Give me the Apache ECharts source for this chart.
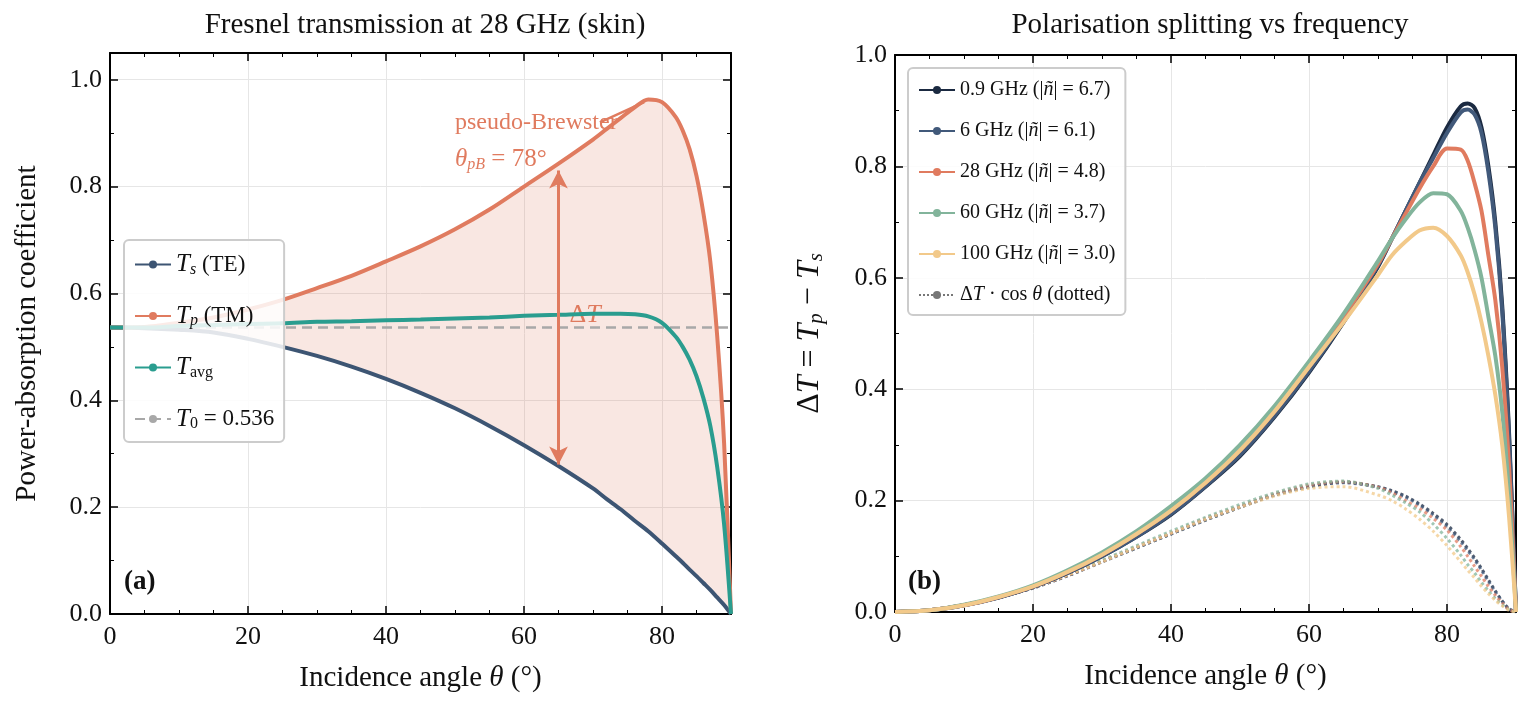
<![CDATA[<!DOCTYPE html><html><head><meta charset="utf-8"><script src="https://cdn.jsdelivr.net/npm/echarts@6/dist/echarts.min.js"></script>
<style>html,body{margin:0;background:#fff}#c{width:1520px;height:715px}</style></head><body><div id="c"></div><script>
const angles=[0,5,10,15,20,25,30,35,40,45,50,55,60,65,70,72,74,76,78,80,82,83,84,85,86,87,88,89,90];
const Ts=[.536,.535,.532,.527,.515,.5,.483,.463,.44,.414,.385,.352,.316,.277,.235,.215,.196,.175,.155,.132,.108,.096,.083,.071,.058,.045,.031,.017,0];
const Tp=[.536,.537,.545,.555,.57,.588,.61,.633,.66,.688,.72,.757,.8,.843,.888,.908,.928,.948,.963,.958,.93,.905,.87,.82,.75,.66,.52,.32,0];
const Tavg=[.536,.536,.539,.541,.543,.544,.547,.548,.55,.551,.553,.555,.558,.56,.562,.562,.562,.561,.557,.545,.519,.5,.476,.445,.404,.352,.275,.168,0];
const T0=0.536;
const freqNames=['0.9 GHz','6 GHz','28 GHz','60 GHz','100 GHz'];
const nAbs=['6.7','6.1','4.8','3.7','3.0'];
const dT=[
[0,.003,.012,.026,.045,.07,.1,.135,.175,.225,.28,.35,.43,.52,.62,.67,.72,.77,.82,.87,.908,.913,.905,.87,.8,.7,.55,.32,0],
[0,.003,.012,.026,.045,.07,.1,.135,.176,.226,.282,.352,.432,.522,.622,.67,.72,.77,.815,.86,.897,.902,.893,.86,.79,.69,.54,.31,0],
[0,.003,.012,.027,.046,.072,.103,.14,.182,.232,.29,.36,.44,.53,.625,.67,.715,.76,.8,.832,.83,.81,.77,.72,.64,.56,.44,.26,0],
[0,.003,.013,.028,.048,.075,.107,.145,.19,.24,.3,.37,.45,.535,.63,.67,.705,.735,.752,.75,.72,.69,.65,.6,.53,.46,.36,.21,0],
[0,.003,.012,.027,.046,.072,.103,.14,.182,.232,.29,.36,.44,.52,.605,.64,.665,.685,.69,.675,.64,.61,.57,.52,.46,.39,.3,.17,0]];
const dTcos=[
[0,.003,.012,.026,.043,.065,.09,.115,.14,.165,.188,.21,.225,.233,.225,.218,.208,.194,.177,.157,.13,.114,.097,.078,.058,.038,.02,.006,0],
[0,.003,.012,.026,.043,.065,.09,.115,.14,.165,.188,.21,.225,.232,.224,.216,.206,.192,.174,.153,.126,.11,.094,.075,.055,.036,.019,.005,0],
[0,.003,.012,.026,.044,.066,.091,.117,.142,.168,.19,.212,.228,.234,.224,.214,.2,.186,.168,.147,.117,.1,.082,.064,.046,.03,.016,.004,0],
[0,.003,.013,.027,.045,.068,.093,.119,.145,.17,.193,.214,.23,.235,.222,.21,.196,.18,.158,.132,.102,.085,.07,.053,.038,.024,.013,.004,0],
[0,.003,.012,.026,.044,.066,.09,.116,.141,.166,.188,.208,.222,.225,.21,.2,.185,.167,.145,.119,.09,.075,.061,.046,.033,.021,.011,.003,0]];
const fc=['#1b2a41','#41597a','#e07b5f','#82b49b','#f2c98a'];
const F='Liberation Serif';
const z=(a)=>angles.map((x,i)=>[x,a[i]]);
function xa(gi,show){return {type:'value',gridIndex:gi,min:0,max:90,interval:20,position:show?'bottom':'top',
 name:show?'{t|Incidence angle }{i|θ}{t| (°)}':'',nameLocation:'middle',nameGap:50,
 nameTextStyle:{rich:{t:{fontFamily:F,fontSize:29,color:'#111'},i:{fontFamily:F,fontStyle:'italic',fontSize:29,color:'#111'}}},
 axisLine:{show:true,onZero:false,lineStyle:{color:'#000',width:2}},axisTick:{show:true,inside:true,length:8,lineStyle:{color:'#000',width:1.5}},
 minorTick:{show:true,splitNumber:4,length:4,lineStyle:{color:'#000'}},
 axisLabel:{show:show,fontFamily:F,fontSize:26,color:'#111',margin:10,formatter:v=>v%20===0?String(v):''},splitLine:{show:show,lineStyle:{color:'#e6e6e6'}}};}
function ya(gi,show,max,name){return {type:'value',gridIndex:gi,min:0,max:max,interval:0.2,position:show?'left':'right',
 name:name||'',nameLocation:'middle',nameGap:68,nameTextStyle:{fontFamily:F,fontSize:29,color:'#111',rich:{t:{fontFamily:F,fontSize:32},i:{fontFamily:F,fontStyle:'italic',fontSize:32},s:{fontFamily:F,fontStyle:'italic',fontSize:21,padding:[14,0,0,0]}}},
 axisLine:{show:true,onZero:false,lineStyle:{color:'#000',width:2}},axisTick:{show:true,inside:true,length:8,lineStyle:{color:'#000',width:1.5}},
 minorTick:{show:true,splitNumber:2,length:4,lineStyle:{color:'#000'}},
 axisLabel:{show:show,fontFamily:F,fontSize:26,color:'#111',formatter:v=>Math.abs(v*5-Math.round(v*5))<1e-6?v.toFixed(1):''},
 splitLine:{show:show,lineStyle:{color:'#e6e6e6'}}};}
const line=(name,data,color,xi,yi,extra)=>Object.assign({type:'line',name,data:z(data),xAxisIndex:xi,yAxisIndex:yi,symbol:'none',showSymbol:false,smooth:0.3,lineStyle:{color,width:4},itemStyle:{color},z:3},extra||{});
const series=[
 {type:'custom',xAxisIndex:0,yAxisIndex:0,silent:true,z:1,data:[0],renderItem:(params,api)=>{
   const pts=angles.map((x,i)=>api.coord([x,Tp[i]])).concat(angles.slice().reverse().map((x,j)=>api.coord([x,Ts[angles.length-1-j]])));
   return {type:'polygon',shape:{points:pts},style:{fill:'rgba(224,123,95,0.18)'}};}},
 line('Ts',Ts,'#3d5573',0,0),
 line('Tp',Tp,'#e07b5f',0,0,{markLine:{silent:true,symbol:['arrow','arrow'],symbolSize:[14,18],label:{show:false},lineStyle:{color:'#e07b5f',width:3,type:'solid'},data:[[{coord:[65,0.28]},{coord:[65,0.83]}]]}}),
 line('Tavg',Tavg,'#2a9d8f',0,0),
 {type:'line',name:'T0',data:[[0,T0],[90,T0]],xAxisIndex:0,yAxisIndex:0,symbol:'none',showSymbol:false,lineStyle:{color:'#a8a8a8',width:2.5,type:[10,6]},itemStyle:{color:'#a8a8a8'},z:2}
];
freqNames.forEach((n,k)=>series.push(line(n,dT[k],fc[k],2,2)));
series.push({type:'line',name:'dotted',data:[],xAxisIndex:2,yAxisIndex:2,symbol:'none',showSymbol:false,lineStyle:{color:'#777',width:3,type:'dotted'},itemStyle:{color:'#777'}});
freqNames.forEach((n,k)=>series.push(line(n+'d',dTcos[k],fc[k],2,2,{lineStyle:{color:fc[k],width:3,type:'dotted',opacity:0.75},z:2})));
const rich={t:{fontFamily:F,fontSize:23,color:'#111'},i:{fontFamily:F,fontStyle:'italic',fontSize:25,color:'#111'},s:{fontFamily:F,fontStyle:'italic',fontSize:16,color:'#111',padding:[10,0,0,0]},r:{fontFamily:F,fontSize:16,color:'#111',padding:[10,0,0,0]},
 t2:{fontFamily:F,fontSize:20,color:'#111'},i2:{fontFamily:F,fontStyle:'italic',fontSize:20,color:'#111'}};
const legFmt={Ts:'{i|T}{s|s}{t| (TE)}',Tp:'{i|T}{s|p}{t| (TM)}',Tavg:'{i|T}{r|avg}',T0:'{i|T}{r|0}{t| = 0.536}',dotted:'{t2|Δ}{i2|T}{t2| · cos }{i2|θ}{t2| (dotted)}'};
freqNames.forEach((n,k)=>legFmt[n]='{t2|'+n+' (|}{i2|ñ}{t2|| = '+nAbs[k]+')}');
const legBase={orient:'vertical',backgroundColor:'rgba(255,255,255,0.85)',borderColor:'#ccc',borderWidth:2,borderRadius:5,itemWidth:36,itemHeight:10,padding:[12,10,10,10],formatter:n=>legFmt[n],textStyle:{rich:rich}};
const ch=echarts.init(document.getElementById('c'));
ch.setOption({animation:false,
 title:[{text:'Fresnel transmission at 28 GHz (skin)',left:420,top:6,textAlign:'center',textStyle:{fontFamily:F,fontSize:29,fontWeight:'normal',color:'#111'}},
  {text:'Polarisation splitting vs frequency',left:1205,top:6,textAlign:'center',textStyle:{fontFamily:F,fontSize:29,fontWeight:'normal',color:'#111'}}],
 grid:[{left:110,width:621,top:53,height:561},{left:110,width:621,top:53,height:561},{left:895,width:621,top:55,height:557},{left:895,width:621,top:55,height:557}],
 xAxis:[xa(0,true),xa(1,false),xa(2,true),xa(3,false)],
 yAxis:[ya(0,true,1.05,'Power-absorption coefficient'),ya(1,false,1.05),ya(2,true,1.0,'{t|Δ}{i|T}{t| = }{i|T}{s|p}{t| − }{i|T}{s|s}'),ya(3,false,1.0)],
 legend:[Object.assign({},legBase,{data:['Ts','Tp','Tavg','T0'],left:124,top:240,itemGap:26}),
  Object.assign({},legBase,{data:[...freqNames,'dotted'],left:908,top:68,itemGap:21})],
 series});
const p=(x,y)=>ch.convertToPixel({xAxisIndex:0,yAxisIndex:0},[x,y]);
const a=p(50,0.92),b=p(50,0.85),d=p(70,0.56),pk=p(78,0.962),src=p(71,0.92);
ch.setOption({graphic:[
 {type:'text',x:a[0],y:a[1],style:{text:'pseudo-Brewster',font:'24px "Liberation Serif"',fill:'#e07b5f',textVerticalAlign:'middle'}},
 {type:'text',x:b[0],y:b[1],style:{text:'{i|θ}{s|pB}{t| = 78°}',rich:{i:{fontFamily:F,fontStyle:'italic',fontSize:25,fill:'#e07b5f'},s:{fontFamily:F,fontStyle:'italic',fontSize:16,fill:'#e07b5f',padding:[10,0,0,0]},t:{fontFamily:F,fontSize:25,fill:'#e07b5f'}},textVerticalAlign:'middle'}},
 {type:'text',x:d[0]-8,y:d[1],style:{text:'{t|Δ}{i|T}',rich:{t:{fontFamily:F,fontSize:26,fill:'#e07b5f'},i:{fontFamily:F,fontStyle:'italic',fontSize:26,fill:'#e07b5f'}},textAlign:'center',textVerticalAlign:'middle'}},
 {type:'line',shape:{x1:src[0],y1:src[1],x2:pk[0]-4,y2:pk[1]+2},style:{stroke:'#e07b5f',lineWidth:2.5}},
 {type:'text',x:124,y:582,style:{text:'(a)',font:'bold 27px "Liberation Serif"',fill:'#111',textVerticalAlign:'middle'}},
 {type:'text',x:908,y:582,style:{text:'(b)',font:'bold 27px "Liberation Serif"',fill:'#111',textVerticalAlign:'middle'}}
]});
</script></body></html>]]>
